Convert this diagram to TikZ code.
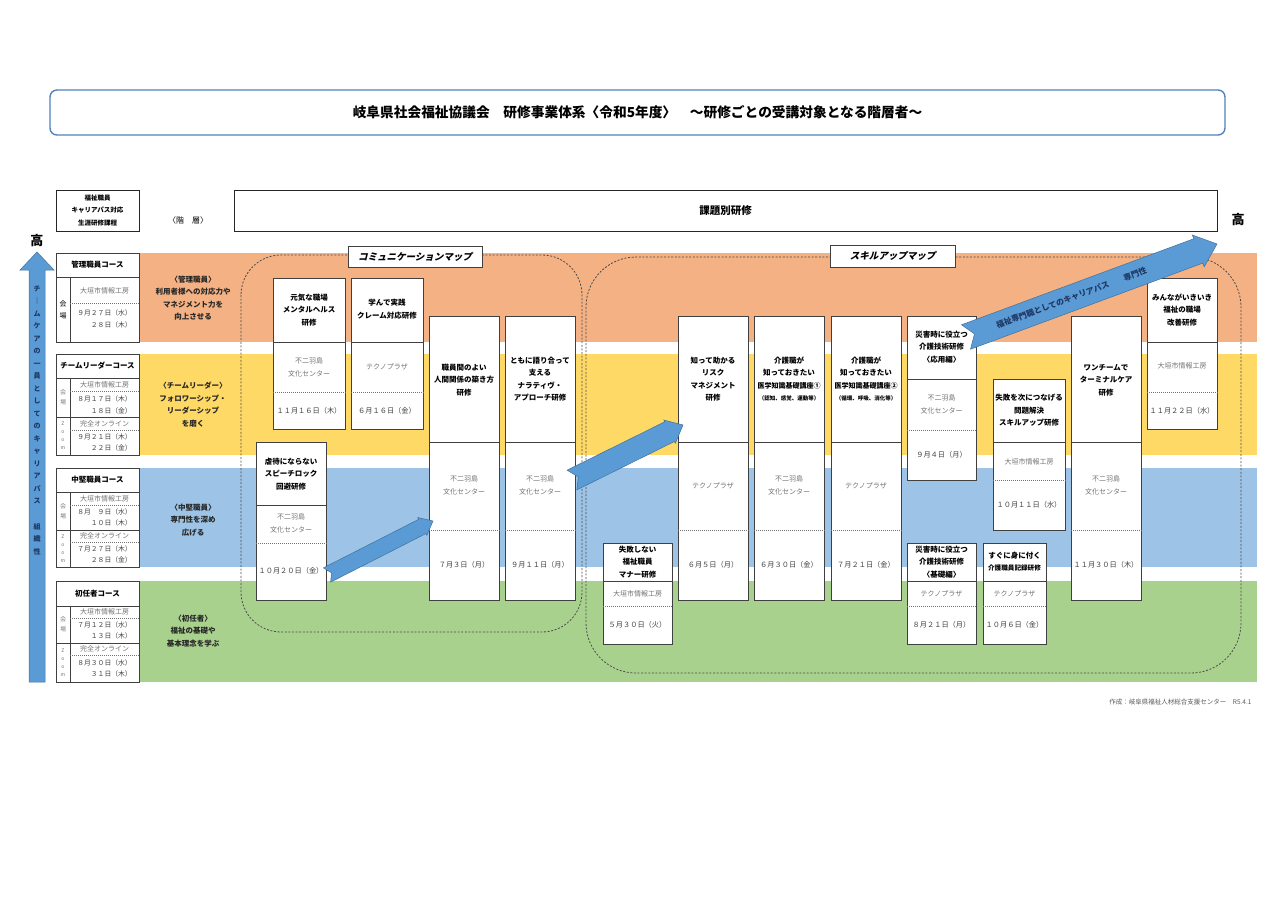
\documentclass[tikz,border=0pt]{standalone}
\usepackage{fontspec}
\setmainfont{Noto Sans CJK JP}
\newfontfamily\mapfont[FakeSlant=0.25]{Noto Sans CJK JP}
\usetikzlibrary{calc}
\definecolor{kanriorange}{RGB}{244,177,131}
\definecolor{leaderyellow}{RGB}{255,217,102}
\definecolor{chukenblue}{RGB}{157,195,230}
\definecolor{shoningreen}{RGB}{169,209,142}
\definecolor{arrowblue}{RGB}{91,155,213}
\definecolor{arrowedge}{RGB}{65,113,156}
\definecolor{titleblue}{RGB}{84,130,190}
\definecolor{navytext}{RGB}{31,56,100}
\newcommand{\sz}[2]{\fontsize{#1}{#2}\selectfont}
% notched block arrow: tail, tip, half width, head half width, head length, notch
\newcommand{\notcharrow}[6]{%
  \filldraw[bigarrow] ($(#1)!#3!90:(#2)$) -- ($(#2)!#5!(#1)!#3!-90:(#1)$) -- ($(#2)!#5!(#1)!#4!-90:(#1)$) -- (#2) -- ($(#2)!#5!(#1)!#4!90:(#1)$) -- ($(#2)!#5!(#1)!#3!90:(#1)$) -- ($(#1)!#3!-90:(#2)$) -- ($(#1)!#6!(#2)$) -- cycle;}

\begin{document}
\begin{tikzpicture}[x=1pt,y=-1pt,
  kbox/.style={draw=black!75,fill=white,line width=0.8pt,anchor=north west,inner sep=0pt},
  ktitle/.style={font=\bfseries\sz{7.5}{12.5},align=center,inner sep=0pt},
  kplace/.style={font=\sz{7}{13},text=black!55,align=center,inner sep=0pt},
  kdate/.style={font=\sz{7.2}{12},text=black!75,align=center,inner sep=0pt},
  cdate/.style={font=\sz{6.8}{11.5},text=black!75,align=center,inner sep=0pt},
  kline/.style={draw=black!75,line width=0.6pt},
  kdots/.style={draw=black!55,line width=0.6pt,dash pattern=on 1.2pt off 0.8pt},
  mapline/.style={draw=black!70,line width=0.8pt,dash pattern=on 2pt off 1.6pt},
  bigarrow/.style={fill=arrowblue,draw=arrowedge,line width=0.5pt},
  levelnote/.style={font=\bfseries\sz{7.5}{12.5},align=center,text=black!85,inner sep=0pt},
  vsmall/.style={font=\sz{5}{8},text=black!55,align=center,inner sep=0pt}]

\useasboundingbox (0,0) rectangle (1280,905);
\fill[white] (0,0) rectangle (1280,905);

% bands
\fill[kanriorange] (139,253) rectangle (1257,342);
\fill[leaderyellow] (139,354) rectangle (1257,455);
\fill[chukenblue] (139,468) rectangle (1257,567);
\fill[shoningreen] (139,581) rectangle (1257,682);

% title and header
\node[draw=titleblue,line width=1.4pt,rounded corners=7pt,minimum width=1175,minimum height=45,font=\bfseries\sz{13.7}{15}] (title) at (637.5,112.5) {岐阜県社会福祉協議会　研修事業体系〈令和5年度〉　～研修ごとの受講対象となる階層者～};
\node[draw=black!85,line width=1pt,minimum width=83,minimum height=41,align=center,font=\bfseries\sz{6.5}{12.5}] (careerpath) at (97.5,210.5) {福祉職員\\キャリアパス対応\\生涯研修課程};
\node[font=\sz{8}{10}] (kaiso) at (188,220) {〈階　層〉};
\node[draw=black!85,line width=1pt,minimum width=983,minimum height=41,font=\bfseries\sz{10.5}{12}] (kadai) at (725.5,210.5) {課題別研修};
\node[font=\bfseries\sz{13}{15}] (takaR) at (1238,220) {高};
\node[font=\bfseries\sz{13}{15}] (takaL) at (37,241) {高};

% left arrow
\filldraw[bigarrow] (29,682) -- (29,270) -- (20,270) -- (37,252) -- (54,270) -- (45,270) -- (45,682) -- cycle;
\node[font=\bfseries\sz{7}{12.5},text=navytext,align=center,inner sep=0pt] (teamcare) at (37,420) {チ\\｜\\ム\\ケ\\ア\\の\\一\\員\\と\\し\\て\\の\\キ\\ャ\\リ\\ア\\パ\\ス\\[13pt]組\\織\\性};

% maps
\draw[mapline,rounded corners=40pt] (241,255) rectangle (582,632);
\draw[mapline,rounded corners=50pt] (586,257) rectangle (1241,673);
\node[draw=black!75,fill=white,minimum width=134,minimum height=21,font=\mapfont\bfseries\sz{9.5}{10}] (commap) at (415,256.5) {コミュニケーションマップ};
\node[draw=black!75,fill=white,minimum width=125,minimum height=22,font=\mapfont\bfseries\sz{9.5}{10}] (skillmap) at (892.5,256) {スキルアップマップ};

% courses
\node[kbox,minimum width=83,minimum height=89] (kanri) at (56,253) {};
\draw[kline] (kanri.west |- 0,277) -- (kanri.east |- 0,277);
\draw[kline] (70,277) -- (70,277 |- kanri.south);
\draw[kdots] (70,303) -- (kanri.east |- 0,303);
\node[font=\bfseries\sz{7.5}{10}] (kanrih) at (97.5,265) {管理職員コース};
\node[font=\sz{7}{12},align=center,inner sep=0pt] (kanrik) at (63,310) {会\\場};
\node[kplace] (kanrip) at (104.5,291) {大垣市情報工房};
\node[cdate] (kanrid) at (104.5,319) {９月２７日（水）\\　　２８日（木）};

\node[kbox,minimum width=83,minimum height=101] (leader) at (56,354) {};
\draw[kline] (leader.west |- 0,378) -- (leader.east |- 0,378);
\draw[kline] (70,378) -- (70,378 |- leader.south);
\draw[kline] (leader.west |- 0,417) -- (leader.east |- 0,417);
\draw[kdots] (70,391) -- (leader.east |- 0,391);
\draw[kdots] (70,430) -- (leader.east |- 0,430);
\node[font=\bfseries\sz{7.5}{10}] (leaderh) at (97.5,366) {チームリーダーコース};
\node[font=\sz{6}{10},text=black!50,align=center,inner sep=0pt] (leaderk) at (63,397.5) {会\\場};
\node[kplace] (leaderp) at (104.5,384.5) {大垣市情報工房};
\node[cdate] (leaderd) at (104.5,405) {８月１７日（木）\\　　１８日（金）};
\node[vsmall] (leaderz) at (63,436) {Z\\o\\o\\m};
\node[kplace] (leaderq) at (104.5,423.5) {完全オンライン};
\node[cdate] (leadere) at (104.5,442.5) {９月２１日（木）\\　　２２日（金）};

\node[kbox,minimum width=83,minimum height=99] (chuken) at (56,468) {};
\draw[kline] (chuken.west |- 0,492) -- (chuken.east |- 0,492);
\draw[kline] (70,492) -- (70,492 |- chuken.south);
\draw[kline] (chuken.west |- 0,530) -- (chuken.east |- 0,530);
\draw[kdots] (70,505) -- (chuken.east |- 0,505);
\draw[kdots] (70,542) -- (chuken.east |- 0,542);
\node[font=\bfseries\sz{7.5}{10}] (chukenh) at (97.5,480) {中堅職員コース};
\node[font=\sz{6}{10},text=black!50,align=center,inner sep=0pt] (chukenk) at (63,511) {会\\場};
\node[kplace] (chukenp) at (104.5,498.5) {大垣市情報工房};
\node[cdate] (chukend) at (104.5,517.5) {８月　９日（水）\\　　１０日（木）};
\node[vsmall] (chukenz) at (63,548.5) {Z\\o\\o\\m};
\node[kplace] (chukenq) at (104.5,536) {完全オンライン};
\node[cdate] (chukene) at (104.5,554.5) {７月２７日（木）\\　　２８日（金）};

\node[kbox,minimum width=83,minimum height=101] (shonin) at (56,581) {};
\draw[kline] (shonin.west |- 0,606) -- (shonin.east |- 0,606);
\draw[kline] (70,606) -- (70,606 |- shonin.south);
\draw[kline] (shonin.west |- 0,643) -- (shonin.east |- 0,643);
\draw[kdots] (70,618) -- (shonin.east |- 0,618);
\draw[kdots] (70,655) -- (shonin.east |- 0,655);
\node[font=\bfseries\sz{7.5}{10}] (shoninh) at (97.5,593.5) {初任者コース};
\node[font=\sz{6}{10},text=black!50,align=center,inner sep=0pt] (shonink) at (63,624.5) {会\\場};
\node[kplace] (shoninp) at (104.5,612) {大垣市情報工房};
\node[cdate] (shonind) at (104.5,630.5) {７月１２日（水）\\　　１３日（木）};
\node[vsmall] (shoninz) at (63,662.5) {Z\\o\\o\\m};
\node[kplace] (shoninq) at (104.5,649) {完全オンライン};
\node[cdate] (shonine) at (104.5,668.5) {８月３０日（水）\\　　３１日（木）};

% levels
\node[levelnote] (levkanri) at (193,298) {〈管理職員〉\\利用者様への対応力や\\マネジメント力を\\向上させる};
\node[levelnote] (levleader) at (193,404.5) {〈チームリーダー〉\\フォロワーシップ・\\リーダーシップ\\を磨く};
\node[levelnote] (levchuken) at (193,520) {〈中堅職員〉\\専門性を深め\\広げる};
\node[levelnote] (levshonin) at (193,631) {〈初任者〉\\福祉の基礎や\\基本理念を学ぶ};

% communication map
\node[kbox,minimum width=72,minimum height=151] (genki) at (273,278) {};
\draw[kline] (genki.west |- 0,342) -- (genki.east |- 0,342);
\draw[kdots] (genki.west |- 0,392) -- (genki.east |- 0,392);
\node[ktitle] (genkit) at (309,310) {元気な職場\\メンタルヘルス\\研修};
\node[kplace] (genkip) at (309,367) {不二羽島\\文化センター};
\node[kdate] (genkid) at (309,411) {１１月１６日（木）};

\node[kbox,minimum width=72,minimum height=151] (claim) at (351,278) {};
\draw[kline] (claim.west |- 0,342) -- (claim.east |- 0,342);
\draw[kdots] (claim.west |- 0,392) -- (claim.east |- 0,392);
\node[ktitle] (claimt) at (387,309) {学んで実践\\クレーム対応研修};
\node[kplace] (claimp) at (387,367) {テクノプラザ};
\node[kdate] (claimd) at (387,411) {６月１６日（金）};

\node[kbox,minimum width=70,minimum height=284] (ningen) at (429,316) {};
\draw[kline] (ningen.west |- 0,442) -- (ningen.east |- 0,442);
\draw[kdots] (ningen.west |- 0,530) -- (ningen.east |- 0,530);
\node[ktitle] (ningent) at (464,380) {職員間のよい\\人間関係の築き方\\研修};
\node[kplace] (ningenp) at (464,485.5) {不二羽島\\文化センター};
\node[kdate] (ningend) at (464,565) {７月３日（月）};

\node[kbox,minimum width=70,minimum height=284] (narrative) at (505,316) {};
\draw[kline] (narrative.west |- 0,442) -- (narrative.east |- 0,442);
\draw[kdots] (narrative.west |- 0,530) -- (narrative.east |- 0,530);
\node[ktitle] (narrativet) at (540,379) {ともに語り合って\\支える\\ナラティヴ・\\アプローチ研修};
\node[kplace] (narrativep) at (540,485.5) {不二羽島\\文化センター};
\node[kdate] (narratived) at (540,565) {９月１１日（月）};

\node[kbox,minimum width=70,minimum height=158] (speech) at (256,442) {};
\draw[kline] (speech.west |- 0,505) -- (speech.east |- 0,505);
\draw[kdots] (speech.west |- 0,543) -- (speech.east |- 0,543);
\node[ktitle] (speecht) at (291,474) {虐待にならない\\スピーチロック\\回避研修};
\node[kplace] (speechp) at (291,523.5) {不二羽島\\文化センター};
\node[kdate] (speechd) at (291,571) {１０月２０日（金）};

% skill-up map
\node[kbox,minimum width=69,minimum height=101] (manner) at (603,543) {};
\draw[kline] (manner.west |- 0,581) -- (manner.east |- 0,581);
\draw[kdots] (manner.west |- 0,606) -- (manner.east |- 0,606);
\node[ktitle] (mannert) at (637.5,562) {失敗しない\\福祉職員\\マナー研修};
\node[kplace] (mannerp) at (637.5,593.5) {大垣市情報工房};
\node[kdate] (mannerd) at (637.5,625) {５月３０日（火）};

\node[kbox,minimum width=70,minimum height=284] (risk) at (678,316) {};
\draw[kline] (risk.west |- 0,442) -- (risk.east |- 0,442);
\draw[kdots] (risk.west |- 0,530) -- (risk.east |- 0,530);
\node[ktitle] (riskt) at (713,379) {知って助かる\\リスク\\マネジメント\\研修};
\node[kplace] (riskp) at (713,485.5) {テクノプラザ};
\node[kdate] (riskd) at (713,565) {６月５日（月）};

\node[kbox,minimum width=70,minimum height=284] (igakuA) at (754,316) {};
\draw[kline] (igakuA.west |- 0,442) -- (igakuA.east |- 0,442);
\draw[kdots] (igakuA.west |- 0,530) -- (igakuA.east |- 0,530);
\node[ktitle] (igakuAt) at (789,379) {介護職が\\知っておきたい\\{\sz{7}{12.5}医学知識基礎講座①}\\{\sz{5.5}{10}（認知、感覚、運動等）}};
\node[kplace] (igakuAp) at (789,485.5) {不二羽島\\文化センター};
\node[kdate] (igakuAd) at (789,565) {６月３０日（金）};

\node[kbox,minimum width=70,minimum height=284] (igakuB) at (831,316) {};
\draw[kline] (igakuB.west |- 0,442) -- (igakuB.east |- 0,442);
\draw[kdots] (igakuB.west |- 0,530) -- (igakuB.east |- 0,530);
\node[ktitle] (igakuBt) at (866,379) {介護職が\\知っておきたい\\{\sz{7}{12.5}医学知識基礎講座②}\\{\sz{5.5}{10}（循環、呼吸、消化等）}};
\node[kplace] (igakuBp) at (866,485.5) {テクノプラザ};
\node[kdate] (igakuBd) at (866,565) {７月２１日（金）};

\node[kbox,minimum width=69,minimum height=164] (saigaiO) at (907,316) {};
\draw[kline] (saigaiO.west |- 0,379) -- (saigaiO.east |- 0,379);
\draw[kdots] (saigaiO.west |- 0,430) -- (saigaiO.east |- 0,430);
\node[ktitle] (saigaiOt) at (941.5,347) {災害時に役立つ\\介護技術研修\\〈応用編〉};
\node[kplace] (saigaiOp) at (941.5,404) {不二羽島\\文化センター};
\node[kdate] (saigaiOd) at (941.5,455) {９月４日（月）};

\node[kbox,minimum width=72,minimum height=151] (mondai) at (993,379) {};
\draw[kline] (mondai.west |- 0,442) -- (mondai.east |- 0,442);
\draw[kdots] (mondai.west |- 0,480) -- (mondai.east |- 0,480);
\node[ktitle] (mondait) at (1029,410.5) {失敗を次につなげる\\問題解決\\スキルアップ研修};
\node[kplace] (mondaip) at (1029,462) {大垣市情報工房};
\node[kdate] (mondaid) at (1029,505) {１０月１１日（水）};

\node[kbox,minimum width=70,minimum height=284] (terminal) at (1071,316) {};
\draw[kline] (terminal.west |- 0,442) -- (terminal.east |- 0,442);
\draw[kdots] (terminal.west |- 0,530) -- (terminal.east |- 0,530);
\node[ktitle] (terminalt) at (1106,380) {ワンチームで\\ターミナルケア\\研修};
\node[kplace] (terminalp) at (1106,485.5) {不二羽島\\文化センター};
\node[kdate] (terminald) at (1106,565) {１１月３０日（木）};

\node[kbox,minimum width=70,minimum height=151] (shokuba) at (1147,278) {};
\draw[kline] (shokuba.west |- 0,342) -- (shokuba.east |- 0,342);
\draw[kdots] (shokuba.west |- 0,392) -- (shokuba.east |- 0,392);
\node[ktitle] (shokubat) at (1182,310) {みんながいきいき\\福祉の職場\\改善研修};
\node[kplace] (shokubap) at (1182,366) {大垣市情報工房};
\node[kdate] (shokubad) at (1182,411) {１１月２２日（水）};

\node[kbox,minimum width=69,minimum height=101] (saigaiK) at (907,543) {};
\draw[kline] (saigaiK.west |- 0,581) -- (saigaiK.east |- 0,581);
\draw[kdots] (saigaiK.west |- 0,606) -- (saigaiK.east |- 0,606);
\node[ktitle] (saigaiKt) at (941.5,562) {災害時に役立つ\\介護技術研修\\〈基礎編〉};
\node[kplace] (saigaiKp) at (941.5,593.5) {テクノプラザ};
\node[kdate] (saigaiKd) at (941.5,625) {８月２１日（月）};

\node[kbox,minimum width=63,minimum height=101] (kiroku) at (983,543) {};
\draw[kline] (kiroku.west |- 0,581) -- (kiroku.east |- 0,581);
\draw[kdots] (kiroku.west |- 0,606) -- (kiroku.east |- 0,606);
\node[ktitle] (kirokut) at (1014.5,561.5) {すぐに身に付く\\{\sz{6.6}{12.5}介護職員記録研修}};
\node[kplace] (kirokup) at (1014.5,593.5) {テクノプラザ};
\node[kdate] (kirokud) at (1014.5,625) {１０月６日（金）};

% arrows
\coordinate (a1s) at (327,575);
\coordinate (a1e) at (433,521);
\notcharrow{a1s}{a1e}{8pt}{10pt}{12pt}{5pt}
\coordinate (a2s) at (572,480);
\coordinate (a2e) at (683,425);
\notcharrow{a2s}{a2e}{11pt}{13pt}{15pt}{7pt}
\coordinate (a3s) at (966,337);
\coordinate (a3e) at (1217,244);
\notcharrow{a3s}{a3e}{13pt}{17pt}{20pt}{9pt}
\node[rotate=20.3,font=\bfseries\sz{8}{9},text=navytext] (a3t) at ($(a3s)!0.42!(a3e)$) {福祉専門職としてのキャリアパス　　専門性};

\node[anchor=east,font=\sz{6.5}{8},text=black!65] (sakusei) at (1255,702) {作成：岐阜県福祉人材総合支援センター　R5.4.1};
\end{tikzpicture}
\end{document}
